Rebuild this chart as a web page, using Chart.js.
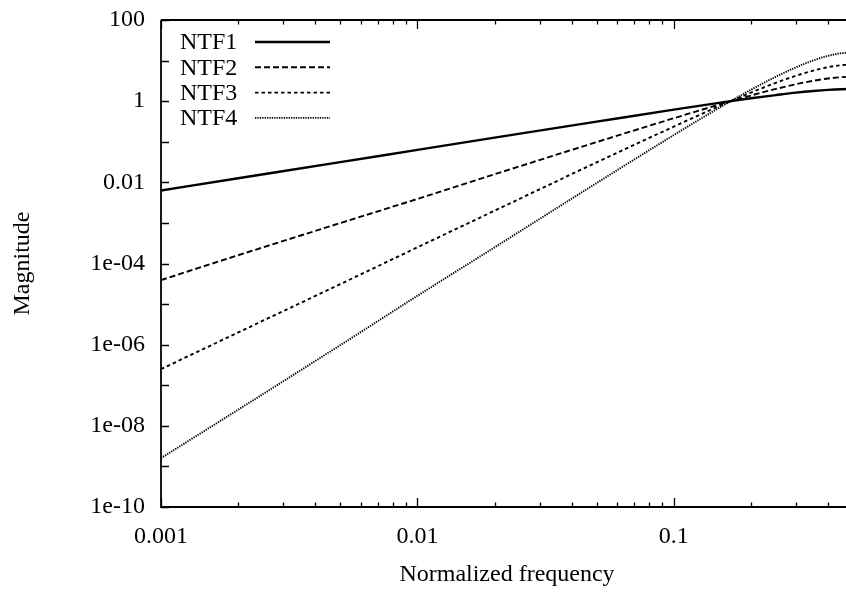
<!DOCTYPE html>
<html>
<head>
<meta charset="utf-8">
<script src="https://cdn.jsdelivr.net/npm/chart.js@4.4.1/dist/chart.umd.min.js"></script>
<style>
  html, body { margin: 0; padding: 0; background: #fff; overflow: hidden; }
  #wrap { position: relative; width: 853px; height: 592px; }
</style>
</head>
<body>
<div id="wrap"><canvas id="c"></canvas></div>
<script>
// ---- data ----
const freq = [0.001, 0.002, 0.005, 0.01, 0.02, 0.05, 0.1, 0.15, 0.2, 0.25, 0.3, 0.35, 0.4, 0.45, 0.5];
const ntf1 = [0.0063, 0.0126, 0.0314, 0.063, 0.126, 0.313, 0.62, 0.91, 1.18, 1.41, 1.62, 1.78, 1.9, 1.97, 2.0];
const ntf2 = [3.9e-5, 1.6e-4, 9.9e-4, 3.9e-3, 0.0158, 0.098, 0.38, 0.82, 1.38, 2.0, 2.62, 3.18, 3.62, 3.9, 4.0];
const ntf3 = [2.5e-7, 2.0e-6, 3.1e-5, 2.5e-4, 2.0e-3, 0.031, 0.236, 0.75, 1.63, 2.83, 4.24, 5.66, 6.88, 7.7, 8.0];
const ntf4 = [1.6e-9, 2.5e-8, 9.7e-7, 1.6e-5, 2.5e-4, 9.6e-3, 0.146, 0.68, 1.91, 4.0, 6.85, 10.1, 13.1, 15.2, 16.0];
const seriesNames = ['NTF1', 'NTF2', 'NTF3', 'NTF4'];

const xMajorTicks = [0.001, 0.01, 0.1];
const xTickLabels = ['0.001', '0.01', '0.1'];
const yTicks = [1e-10, 1e-9, 1e-8, 1e-7, 1e-6, 1e-5, 1e-4, 1e-3, 1e-2, 1e-1, 1, 10, 100];
const yLabelValues = [1e-10, 1e-8, 1e-6, 1e-4, 1e-2, 1, 100];
const yTickLabels = ['1e-10', '1e-08', '1e-06', '1e-04', '0.01', '1', '100'];

const xMin = 0.001, xMax = 0.5, yMin = 1e-10, yMax = 100;

// ---- styles ----
const FONT = '"Liberation Serif", "Times New Roman", serif';
const FS = 24;
const dashes = [[], [6, 3], [3.5, 3], [1.3, 1.1]];
const widths = [2.4, 1.9, 1.9, 1.9];

const allSeries = [ntf1, ntf2, ntf3, ntf4];
const datasets = allSeries.map((s, i) => ({
  label: seriesNames[i],
  data: freq.map((f, j) => ({ x: f, y: s[j] })),
  borderColor: '#000',
  borderWidth: widths[i],
  borderDash: dashes[i],
  pointRadius: 0,
  fill: false,
  cubicInterpolationMode: 'monotone'
}));

// minor x tick positions (2..9 within each decade)
const xAllTicks = [];
xMajorTicks.forEach(d => {
  for (let k = 1; k <= 9; k++) {
    const v = d * k;
    if (v <= xMax + 1e-12) xAllTicks.push({ value: v, major: k === 1 });
  }
});

function labelFor(list, labels, v) {
  for (let i = 0; i < list.length; i++) {
    if (Math.abs(Math.log10(list[i]) - Math.log10(v)) < 1e-6) return labels[i];
  }
  return '';
}

const frame = {
  id: 'frame',
  afterDatasetsDraw(chart) {
    const ctx = chart.ctx;
    const a = chart.chartArea;
    const xs = chart.scales.x, ys = chart.scales.y;
    ctx.save();
    ctx.strokeStyle = '#000';
    ctx.setLineDash([]);
    ctx.lineWidth = 1.8;
    ctx.beginPath();
    ctx.moveTo(a.left, a.top); ctx.lineTo(a.left, a.bottom); ctx.lineTo(a.right + 2, a.bottom);
    ctx.moveTo(a.left, a.top); ctx.lineTo(a.right + 2, a.top);
    ctx.stroke();
    ctx.lineWidth = 1.3;
    ctx.beginPath();
    xAllTicks.forEach(t => {
      const px = Math.round(xs.getPixelForValue(t.value)) + 0.5;
      const len = t.major ? 9 : 4.5;
      ctx.moveTo(px, a.bottom); ctx.lineTo(px, a.bottom - len);
      ctx.moveTo(px, a.top); ctx.lineTo(px, a.top + len);
    });
    yTicks.forEach(v => {
      const py = Math.round(ys.getPixelForValue(v)) + 0.5;
      ctx.moveTo(a.left, py); ctx.lineTo(a.left + 8, py);
    });
    ctx.stroke();
    // legend inside plot, gnuplot style: text then line sample
    ctx.font = FS + 'px ' + FONT;
    ctx.fillStyle = '#000';
    ctx.textBaseline = 'middle';
    ctx.textAlign = 'left';
    chart.data.datasets.forEach((ds, i) => {
      const y = a.top + 22 + i * 25.3;
      ctx.fillText(ds.label, a.left + 19, y + 1);
      ctx.beginPath();
      ctx.setLineDash(ds.borderDash || []);
      ctx.lineWidth = ds.borderWidth;
      ctx.moveTo(a.left + 94, y);
      ctx.lineTo(a.left + 169, y);
      ctx.stroke();
    });
    ctx.restore();
  }
};

new Chart(document.getElementById('c'), {
  type: 'line',
  data: { datasets },
  options: {
    responsive: true,
    maintainAspectRatio: false,
    animation: false,
    layout: { padding: { top: 20, left: 0, right: 0, bottom: 0 } },
    plugins: { legend: { display: false }, tooltip: { enabled: false } },
    scales: {
      x: {
        type: 'logarithmic',
        min: xMin, max: xMax,
        afterBuildTicks(scale) { scale.ticks = xAllTicks.map(t => ({ value: t.value, major: t.major })); },
        afterFit(scale) { scale.height = 85; scale.paddingLeft = 0; scale.paddingRight = 0; },
        grid: { display: false, drawTicks: false },
        border: { display: false },
        ticks: {
          autoSkip: false, maxRotation: 0, minRotation: 0, padding: 15,
          color: '#000', font: { family: FONT, size: FS },
          callback: (v) => labelFor(xMajorTicks, xTickLabels, v)
        },
        title: { display: true, text: 'Normalized frequency', color: '#000', font: { family: FONT, size: FS }, padding: { top: 0, bottom: 3 } }
      },
      y: {
        type: 'logarithmic',
        min: yMin, max: yMax,
        afterBuildTicks(scale) { scale.ticks = yTicks.map(v => ({ value: v })); },
        afterFit(scale) { scale.width = 161; scale.paddingTop = 0; scale.paddingBottom = 0; },
        grid: { display: false, drawTicks: false },
        border: { display: false },
        ticks: {
          autoSkip: false, padding: 16,
          color: '#000', font: { family: FONT, size: FS },
          callback: (v) => labelFor(yLabelValues, yTickLabels, v)
        },
        title: { display: true, text: 'Magnitude', color: '#000', font: { family: FONT, size: FS }, padding: { top: 8, bottom: 0 } }
      }
    }
  },
  plugins: [frame]
});
</script>
</body>
</html>
